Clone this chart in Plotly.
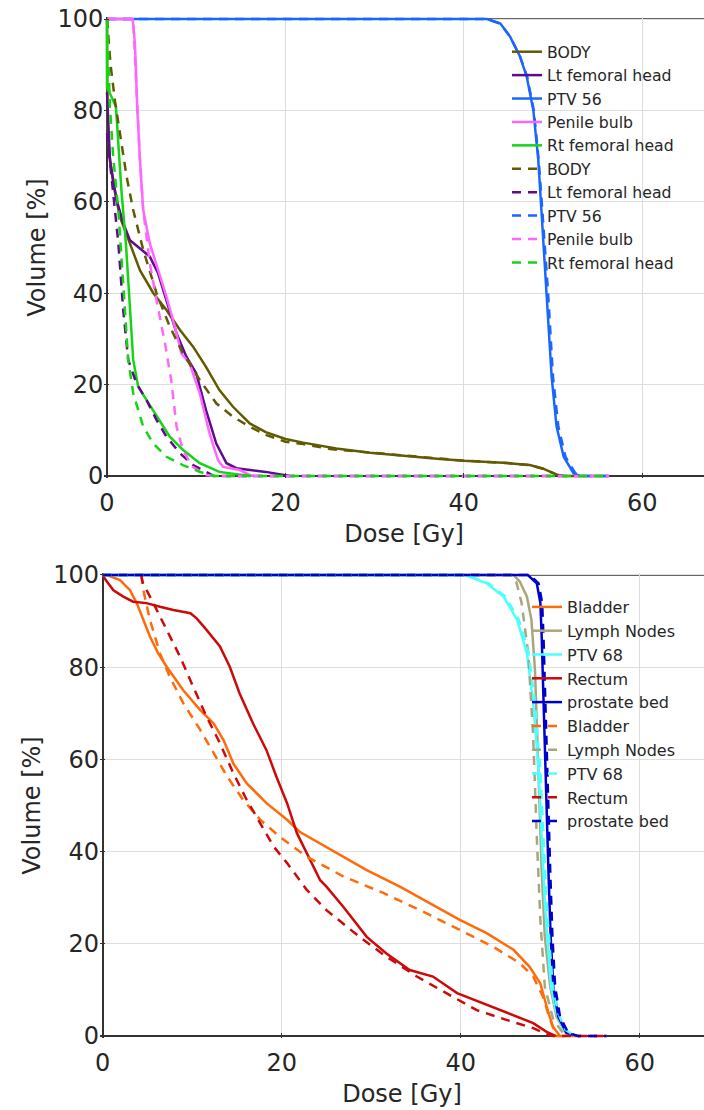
import plotly.graph_objects as go

# ---------------- Top panel data (Dose [Gy], Volume [%]) ----------------
body_d = [0, 0.05, 0.3, 0.7, 1.45, 2.57, 3.7, 5.2, 6.67, 8.16, 9.65, 11.1, 12.6, 14.1, 16, 17.8, 20, 22, 25.7, 29.5, 33.2, 37, 40, 44.4, 47.4, 48.9, 50.4, 51.2]
body_v = [100, 76, 70, 64, 56.7, 50.9, 45, 40, 36.3, 32, 28.3, 23.9, 18.8, 15.2, 11.5, 9.6, 8.1, 7.3, 6.0, 5.1, 4.4, 3.8, 3.35, 2.9, 2.4, 1.6, 0.3, 0]
body2_d = [0, 0.4, 0.9, 1.5, 2.2, 2.94, 4.06, 5.55, 7.04, 8.53, 10.4, 12.25, 14.1, 16, 17.8, 20, 22, 25, 29.5, 33.2, 37, 40, 44.4, 47.4, 48.9, 50.4, 51.2, 56.3]
body2_v = [100, 90, 82, 74, 65.5, 58.2, 49.5, 40, 32.7, 26.8, 21, 15.9, 13, 10.8, 9, 7.5, 7.0, 5.9, 5.1, 4.4, 3.8, 3.35, 2.9, 2.4, 1.6, 0.3, 0, 0]

ltfh_d = [0, 0.33, 1.08, 1.82, 2.57, 3.7, 4.8, 5.74, 6.67, 7.8, 8.9, 10, 11.1, 12.25, 13.4, 14.5, 17.8, 20, 20.5]
ltfh_v = [84, 69, 60.4, 55.3, 51.6, 49.8, 48, 44.3, 38.5, 31.2, 26.1, 22.5, 14.4, 7.1, 2.8, 1.7, 0.9, 0.2, 0]
ltfh2_d = [0, 0.52, 1.27, 1.82, 2.38, 3.3, 4.43, 5.55, 6.67, 8.16, 9.65, 11.1, 12, 56.3]
ltfh2_v = [75, 65.5, 51, 36.3, 25.4, 20.3, 16.6, 12.3, 8.6, 5, 2.4, 0.9, 0, 0]

ptv56_d = [0, 42.6, 44.1, 45.2, 46.3, 47.05, 47.8, 48.35, 48.7, 49.3, 49.85, 50.4, 51.2, 52.3, 53]
ptv56_v = [100, 100, 99, 96.1, 91.8, 87.4, 80, 69.1, 58.2, 40, 21.7, 10.8, 4.2, 0.6, 0]
ptv562_d = [0, 42.6, 44.1, 45.2, 46.3, 47.1, 47.85, 48.4, 48.8, 49.45, 50.0, 50.6, 51.4, 52.5, 53.3, 56.3]
ptv562_v = [100, 100, 99, 96.1, 91.8, 87.4, 80, 69.1, 58.2, 40, 21.7, 10.8, 4.2, 0.6, 0, 0]

penile_d = [0, 2.87, 3.13, 3.4, 3.7, 4.06, 4.8, 5.74, 6.67, 7.6, 8.34, 9.27, 10.4, 11.5, 12.44, 13, 14.9, 16, 16.5]
penile_v = [100, 100, 94.7, 80, 69, 58.2, 50.9, 45, 39.2, 32.7, 26.8, 24.6, 18.1, 9.3, 3.5, 2, 1.3, 0.2, 0]
penile2_d = [0, 2.94, 3.24, 3.7, 4.06, 4.8, 5.55, 6.5, 7.2, 7.8, 8.5, 9.6, 11.1, 12, 56.3]
penile2_v = [100, 100, 87.4, 69, 58.2, 46.5, 38.5, 29, 21, 10.8, 5.7, 2, 0.2, 0, 0]

rtfh_d = [0, 0, 0.5, 1.0, 1.27, 1.64, 2.12, 2.57, 2.94, 3.5, 4.43, 5.55, 7.04, 8.53, 10.4, 12.6, 14.9, 16]
rtfh_v = [100, 85, 83, 80.8, 72.8, 61.9, 50.9, 36.3, 25.4, 19.5, 16.6, 13, 8.6, 5.7, 2.8, 0.9, 0.4, 0]
rtfh2_d = [0, 0.33, 0.7, 1.27, 1.64, 2.0, 2.38, 2.94, 4.06, 5.2, 6.67, 8.5, 10.4, 12, 56.3]
rtfh2_v = [100, 80.8, 69.8, 58.2, 47.3, 36.3, 25.4, 18.1, 10.8, 7.1, 4.2, 2.4, 0.9, 0, 0]

top_names = ["BODY", "Lt femoral head", "PTV 56", "Penile bulb", "Rt femoral head"]
top_colors = ["#625a00", "#5e0c8c", "#1a66ff", "#ff66ff", "#14d414"]

# ---------------- Bottom panel data ----------------
bladder_d = [0, 0.45, 1.94, 3.05, 3.8, 4.54, 5.29, 6.2, 7.15, 9.0, 10.9, 12.4, 13.5, 14.6, 16.1, 18.3, 20.6, 22, 25.8, 29.5, 33.2, 36.9, 39.9, 42.9, 45.9, 47.7, 48.9, 49.6, 50.3, 51.1]
bladder_v = [100, 100, 98.9, 96.7, 93.9, 90.2, 86.6, 83, 80.1, 75, 70.7, 67.8, 64.2, 59.1, 54.8, 50.5, 46.9, 44.3, 40, 36, 32.4, 28.4, 25.2, 22.3, 18.7, 15, 11.4, 6.4, 2, 0]
bladder2_d = [4.3, 4.54, 5.29, 6.4, 7.5, 9.0, 10.9, 12.4, 13.9, 15.7, 17.6, 19.8, 22.8, 26.9, 31.4, 36.2, 39.9, 43.6, 46.6, 48.1, 49.2, 50, 50.7, 56.3]
bladder2_v = [100, 96.7, 90.2, 83, 77.9, 72.2, 66.4, 61.3, 56.3, 51.2, 46.9, 43.2, 38.9, 34.6, 31, 26.6, 23, 19.4, 15.8, 12.9, 8.5, 3.5, 0, 0]

lymph_d = [0, 45.9, 46.6, 47.4, 47.9, 48.3, 48.55, 48.8, 49.05, 49.4, 50, 50.7, 51.8, 52.5]
lymph_v = [100, 100, 98.6, 95.3, 90.3, 79.4, 64.9, 50.5, 36, 21.5, 10.7, 4.2, 0.5, 0]
lymph2_d = [0, 45.5, 46.2, 46.8, 47.55, 48.1, 48.5, 48.9, 49.4, 50.35, 51.5, 52.2]
lymph2_v = [100, 100, 98.6, 94, 83, 64.9, 43.2, 25.2, 10.7, 3.5, 0.5, 0]

ptv68_d = [0, 40.5, 42.9, 44.8, 46.3, 47.4, 48.1, 48.7, 49.05, 49.4, 49.8, 50.1, 50.7, 51.5, 52.6]
ptv68_v = [100, 100, 98.2, 95.3, 90.3, 83, 72.2, 57.7, 43.2, 28.8, 18, 10.7, 4.9, 1.3, 0]
ptv682_d = [0, 40.7, 43.1, 45.0, 46.5, 47.6, 48.3, 48.9, 49.25, 49.6, 50.0, 50.3, 50.9, 51.7, 52.8]
ptv682_v = [100, 100, 98.2, 95.3, 90.3, 83, 72.2, 57.7, 43.2, 28.8, 18, 10.7, 4.9, 1.3, 0]

rectum_d = [0, 0.3, 1.2, 2.3, 3.4, 4.9, 6.4, 7.9, 9.8, 10.5, 11.6, 13.1, 14.2, 15.3, 16.8, 18.3, 19.4, 20.6, 21.7, 22.8, 24.3, 25, 26.9, 29.5, 31.7, 34.3, 36.9, 39.6, 42.5, 45.5, 48.1, 49.6, 50.6]
rectum_v = [100, 99, 96.7, 95.3, 94.2, 93.9, 93.1, 92.4, 91.7, 90.6, 88.1, 84.5, 80.1, 74.3, 67.8, 62, 56.3, 50.5, 44, 39.6, 33.8, 32.4, 28, 21.5, 17.9, 14.3, 12.9, 9.3, 7.1, 4.9, 2.8, 0.9, 0]
rectum2_d = [4.3, 4.5, 5.66, 7.15, 8.64, 10.1, 11.6, 13.1, 14.6, 16.1, 17.6, 19.1, 20.6, 22.8, 25, 27.3, 28.7, 31.7, 35.1, 38.4, 41.8, 45.1, 48.1, 49.7, 50.3, 56.3]
rectum2_v = [100, 98.2, 93.9, 88.1, 82.3, 75.8, 69.3, 63.5, 57, 51.2, 46.1, 41.1, 37.5, 31.7, 27.3, 23.7, 21.5, 17.2, 12.9, 9.3, 5.6, 3.5, 1.7, 0.3, 0, 0]

pbed_d = [0, 47.5, 48.5, 48.9, 49.05, 49.2, 49.4, 49.6, 49.8, 50.05, 50.35, 50.9, 51.8, 52.9]
pbed_v = [100, 100, 98.2, 94, 86.6, 75.8, 64.9, 50.5, 36, 21.5, 10.7, 4.2, 0.7, 0]
pbed2_d = [0, 47.7, 48.7, 49.1, 49.25, 49.4, 49.6, 49.8, 50.0, 50.25, 50.55, 51.1, 52.0, 53.1, 56.3]
pbed2_v = [100, 100, 98.2, 94, 86.6, 75.8, 64.9, 50.5, 36, 21.5, 10.7, 4.2, 0.7, 0, 0]

bot_names = ["Bladder", "Lymph Nodes", "PTV 68", "Rectum", "prostate bed"]
bot_colors = ["#ff6a0a", "#a9a67e", "#4dffff", "#cc0a0a", "#0000cc"]

x_ticks = [0, 20, 40, 60]
y_ticks = [0, 20, 40, 60, 80, 100]

FONT = "DejaVu Sans"
TXT = "#262626"
W, H = 704, 1110
OFF = 0  # page body margin removed by post_script, so figure pixel == screen pixel

top_solid = [(body_d, body_v), (ltfh_d, ltfh_v), (ptv56_d, ptv56_v), (penile_d, penile_v), (rtfh_d, rtfh_v)]
top_dash = [(body2_d, body2_v), (ltfh2_d, ltfh2_v), (ptv562_d, ptv562_v), (penile2_d, penile2_v), (rtfh2_d, rtfh2_v)]
bot_solid = [(bladder_d, bladder_v), (lymph_d, lymph_v), (ptv68_d, ptv68_v), (rectum_d, rectum_v), (pbed_d, pbed_v)]
bot_dash = [(bladder2_d, bladder2_v), (lymph2_d, lymph2_v), (ptv682_d, ptv682_v), (rectum2_d, rectum2_v), (pbed2_d, pbed2_v)]

fig = go.Figure()
LW = 2.5
DASH = "9px,7px"

def add_set(solid, dashed, names, colors, xa, ya, leg):
    for (d, v), n, c in zip(solid, names, colors):
        fig.add_trace(go.Scatter(x=d, y=v, mode="lines", name=n, xaxis=xa, yaxis=ya, legend=leg,
                                 line=dict(color=c, width=LW)))
    for (d, v), n, c in zip(dashed, names, colors):
        fig.add_trace(go.Scatter(x=d, y=v, mode="lines", name=n, xaxis=xa, yaxis=ya, legend=leg,
                                 line=dict(color=c, width=LW, dash=DASH)))

add_set(top_solid, top_dash, top_names, top_colors, "x", "y", "legend")
add_set(bot_solid, bot_dash, bot_names, bot_colors, "x2", "y2", "legend2")

# pixel geometry of the two panels (figure pixels)
top_x0, top_px = 107 - OFF, 8.92
bot_x0, bot_px = 102.7 - OFF, 8.95
top_y100, top_y0 = 19 - OFF, 476 - OFF
bot_y100, bot_y0 = 575 - OFF, 1036 - OFF
pad_v = 0.5
pad_d = 0.3

def yaxis_cfg(y100, y0):
    ppv = (y0 - y100) / 100.0
    top_px_ = y100 - pad_v * ppv
    bot_px_ = y0 + pad_v * ppv
    return dict(domain=[1 - bot_px_ / H, 1 - top_px_ / H], range=[-pad_v, 100 + pad_v])

def xaxis_cfg(x0, ppd):
    left = x0 - pad_d * ppd
    right_val = (W - x0) / ppd
    return dict(domain=[left / W, 1], range=[-pad_d, right_val])

common_ax = dict(showgrid=True, gridcolor="#dedede", gridwidth=1, zeroline=True, zerolinecolor="#333333",
                 zerolinewidth=1.5, showline=False, ticks="inside", ticklen=5, tickcolor="#333333",
                 automargin=False, ticklabeloverflow="allow",
                 tickfont=dict(family=FONT, size=24, color=TXT), title_font=dict(family=FONT, size=24, color=TXT))

fig.update_layout(
    template="none",
    width=W, height=H, margin=dict(l=0, r=0, t=0, b=0, pad=0), autosize=False,
    paper_bgcolor="white", plot_bgcolor="white",
    font=dict(family=FONT, color=TXT),
    xaxis=dict(**common_ax, **xaxis_cfg(top_x0, top_px), anchor="y", tickvals=x_ticks, ticklabelstandoff=8,
               title=dict(text="Dose [Gy]", standoff=8)),
    yaxis=dict(**common_ax, **yaxis_cfg(top_y100, top_y0), anchor="x", tickvals=y_ticks, ticklabelstandoff=0,
               title=dict(text="Volume [%]", standoff=5)),
    xaxis2=dict(**common_ax, **xaxis_cfg(bot_x0, bot_px), anchor="y2", tickvals=x_ticks, ticklabelstandoff=8,
                title=dict(text="Dose [Gy]", standoff=8)),
    yaxis2=dict(**common_ax, **yaxis_cfg(bot_y100, bot_y0), anchor="x2", tickvals=y_ticks, ticklabelstandoff=0,
                title=dict(text="Volume [%]", standoff=5)),
    legend=dict(x=(499 + 8) / W, y=1 - (27 + 8) / H, xanchor="left", yanchor="top", bgcolor="rgba(0,0,0,0)",
                font=dict(family=FONT, size=15.7, color=TXT), itemwidth=30, tracegroupgap=0, borderwidth=0),
    legend2=dict(x=(519 + 8) / W, y=1 - (582 + 8) / H, xanchor="left", yanchor="top", bgcolor="rgba(0,0,0,0)",
                 font=dict(family=FONT, size=16, color=TXT), itemwidth=30, tracegroupgap=0, borderwidth=0),
    showlegend=True,
)

# top border lines of each panel (box outline at 100 %)
fig.add_shape(type="line", xref="x", yref="y", x0=0, x1=70, y0=100, y1=100,
              line=dict(color="#333333", width=1.5), layer="below")
fig.add_shape(type="line", xref="x2", yref="y2", x0=0, x1=70, y0=100, y1=100,
              line=dict(color="#333333", width=1.5), layer="below")

fig.write_html("out.html", config={"displayModeBar": False},
               post_script="document.body.style.margin='0px';")
